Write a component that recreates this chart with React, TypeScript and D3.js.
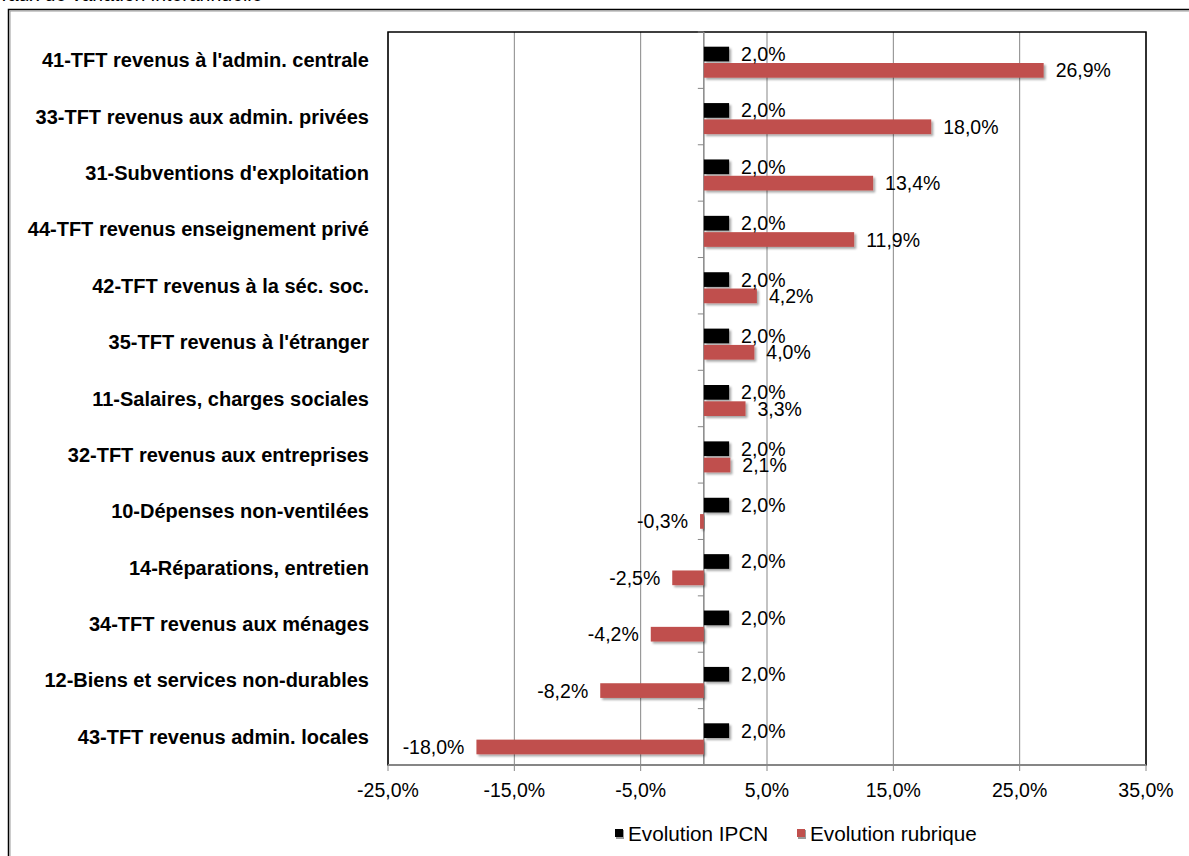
import React from "react";
import * as d3 from "d3";

const categories = [
  "41-TFT revenus à l'admin. centrale",
  "33-TFT revenus aux admin. privées",
  "31-Subventions d'exploitation",
  "44-TFT revenus enseignement privé",
  "42-TFT revenus à la séc. soc.",
  "35-TFT revenus à l'étranger",
  "11-Salaires, charges sociales",
  "32-TFT revenus aux entreprises",
  "10-Dépenses non-ventilées",
  "14-Réparations, entretien",
  "34-TFT revenus aux ménages",
  "12-Biens et services non-durables",
  "43-TFT revenus admin. locales",
];
const ipcn = [2.0, 2.0, 2.0, 2.0, 2.0, 2.0, 2.0, 2.0, 2.0, 2.0, 2.0, 2.0, 2.0];
const rubrique = [26.9, 18.0, 13.4, 11.9, 4.2, 4.0, 3.3, 2.1, -0.3, -2.5, -4.2, -8.2, -18.0];
const xTicks = [-25, -15, -5, 5, 15, 25, 35];
const seriesNames = ["Evolution IPCN", "Evolution rubrique"];
const seriesColors = ["#000000", "#C0504D"];
const title = "Taux de variation interannuelle";

const W = 1189;
const H = 856;
const plot = { left: 388, right: 1146, top: 32, bottom: 765 };
const FONT = "Liberation Sans, Arial, sans-serif";

const fmt = (v: number) => v.toFixed(1).replace(".", ",") + "%";

export default function App() {
  const x = d3.scaleLinear().domain([-25, 35]).range([plot.left, plot.right]);
  const y = d3.scaleBand<string>().domain(categories).range([plot.top, plot.bottom]);
  const inner = d3.scaleBand<number>().domain([0, 1]).range([-13.5, 17.5]).paddingInner(0.1);
  const series = [ipcn, rubrique];
  const x0 = x(0);
  const bw = y.bandwidth();
  const boundaries = d3.range(categories.length + 1).map((i) => plot.top + i * bw);

  return (
    <svg width={W} height={H} style={{ position: "absolute", left: 0, top: 0, background: "#fff" }}>
      <defs>
        <filter id="shadow" x="-10%" y="-30%" width="130%" height="190%">
          <feDropShadow dx="2" dy="2" stdDeviation="1.2" floodColor="#000" floodOpacity="0.35" />
        </filter>
      </defs>
      <rect x={0} y={0} width={W} height={H} fill="#fff" />
      <text x={-2} y={0.8} fontFamily={FONT} fontSize={19.5} fill="#000">{title}</text>
      {/* outer chart frame */}
      <rect x={8.5} y={9.5} width={1300} height={1000} fill="none" stroke="#000" strokeWidth={1.5} />
      <rect x={10} y={11} width={1300} height={1000} fill="none" stroke="#9a9a9a" strokeWidth={1} />

      {/* gridlines */}
      {xTicks.map((t) => (
        <line key={"g" + t} x1={x(t)} x2={x(t)} y1={plot.top} y2={plot.bottom} stroke="#878787" strokeWidth={1} />
      ))}
      {/* plot area border */}
      <rect x={plot.left} y={plot.top} width={plot.right - plot.left} height={plot.bottom - plot.top}
        fill="none" stroke="#000" strokeWidth={1.5} />
      {/* bottom value axis */}
      <line x1={plot.left} x2={plot.right} y1={plot.bottom} y2={plot.bottom} stroke="#868686" strokeWidth={2} />
      {xTicks.map((t) => (
        <g key={"t" + t}>
          <line x1={x(t)} x2={x(t)} y1={plot.bottom} y2={plot.bottom + 6} stroke="#868686" strokeWidth={1} />
          <text x={x(t)} y={plot.bottom + 32} textAnchor="middle" fontFamily={FONT} fontSize={19.5} fill="#000">
            {fmt(t)}
          </text>
        </g>
      ))}
      {/* category axis at zero */}
      <line x1={x0} x2={x0} y1={plot.top} y2={plot.bottom} stroke="#868686" strokeWidth={1.5} />
      {boundaries.map((b, i) => (
        <line key={"ct" + i} x1={x0 - 6} x2={x0} y1={b} y2={b} stroke="#868686" strokeWidth={1} />
      ))}
      {/* category labels */}
      {categories.map((c) => (
        <text key={"cl" + c} x={369} y={(y(c) as number) + bw / 2 + 7} textAnchor="end"
          fontFamily={FONT} fontWeight="bold" fontSize={20} fill="#000">
          {c}
        </text>
      ))}
      {/* bars */}
      {series.map((vals, si) =>
        vals.map((v, i) => {
          const c = categories[i];
          const cy = (y(c) as number) + bw / 2 + (inner(si) as number);
          const bx = Math.min(x(v), x0);
          const w = Math.abs(x(v) - x0);
          return (
            <rect key={"b" + si + "-" + i} x={bx} y={cy} width={w} height={inner.bandwidth()}
              fill={seriesColors[si]} filter="url(#shadow)" />
          );
        })
      )}
      {/* data labels */}
      {series.map((vals, si) =>
        vals.map((v, i) => {
          const c = categories[i];
          const cy = (y(c) as number) + bw / 2 + (inner(si) as number) + inner.bandwidth() / 2;
          const pos = v >= 0;
          return (
            <text key={"l" + si + "-" + i} x={pos ? x(v) + 12 : x(v) - 12} y={cy + 7}
              textAnchor={pos ? "start" : "end"} fontFamily={FONT} fontSize={19.5} fill="#000">
              {fmt(v)}
            </text>
          );
        })
      )}
      {/* legend */}
      {seriesNames.map((n, i) => {
        const lx = [615, 797][i];
        return (
          <g key={"lg" + i}>
            <rect x={lx + 1} y={830} width={8} height={9} fill="#9a9a9a" />
            <rect x={lx} y={829} width={8} height={8} fill={seriesColors[i]} />
            <text x={lx + 13} y={841} fontFamily={FONT} fontSize={20.7} fill="#000">{n}</text>
          </g>
        );
      })}
    </svg>
  );
}
